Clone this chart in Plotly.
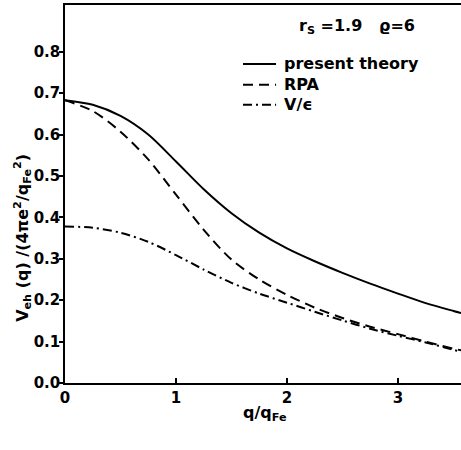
import plotly.graph_objects as go

q = [0, 0.25, 0.5, 0.75, 1.0, 1.25, 1.5, 1.75, 2.0, 2.25, 2.5, 2.75, 3.0, 3.25, 3.5, 3.57]
present_theory = [0.683, 0.672, 0.645, 0.600, 0.535, 0.468, 0.410, 0.363, 0.325, 0.294, 0.266, 0.240, 0.216, 0.193, 0.174, 0.169]
rpa = [0.683, 0.657, 0.607, 0.540, 0.455, 0.370, 0.298, 0.250, 0.213, 0.182, 0.157, 0.136, 0.118, 0.100, 0.083, 0.079]
v_eps = [0.378, 0.375, 0.363, 0.341, 0.309, 0.274, 0.242, 0.216, 0.194, 0.172, 0.151, 0.131, 0.114, 0.098, 0.080, 0.075]

series_names = ["present theory", "RPA", "V/ϵ"]
series_dash = ["solid", "10px,6px", "9px,4px,2px,4px"]

x_ticks = [0, 1, 2, 3]
x_ticktext = ["0", "1", "2", "3"]
y_ticks = [0.0, 0.1, 0.2, 0.3, 0.4, 0.5, 0.6, 0.7, 0.8]
y_ticktext = ["0.0", "0.1", "0.2", "0.3", "0.4", "0.5", "0.6", "0.7", "0.8"]

FONT = "DejaVu Sans"
TICKF = dict(family=FONT, size=15, color="black", weight="bold")
TXT = dict(family=FONT, size=16, color="black", weight="bold")

fig = go.Figure()
for name, ys, dash in zip(series_names, [present_theory, rpa, v_eps], series_dash):
    fig.add_trace(go.Scatter(x=q, y=ys, mode="lines", name=name, showlegend=False,
                             line=dict(color="black", width=2, dash=dash,
                                       shape="spline", smoothing=0.8)))

# manual legend (paper coords)
leg_y = [0.844, 0.789, 0.736]
shapes = []
annotations = []
for name, dash, yy in zip(series_names, series_dash, leg_y):
    shapes.append(dict(type="line", xref="paper", yref="paper", x0=0.4495, x1=0.533,
                       y0=yy, y1=yy, line=dict(color="black", width=2, dash=dash)))
    annotations.append(dict(text=name, xref="paper", yref="paper", x=0.548, y=yy,
                            xanchor="left", yanchor="middle", showarrow=False, font=TXT))

annotations += [
    dict(text="V<sub>eh</sub> (q) /(4πe<sup>2</sup>/q<sub>Fe</sub><sup>2</sup>)",
         xref="paper", yref="paper", x=-0.106, y=0.384, textangle=-90,
         showarrow=False, xanchor="center", yanchor="middle", font=TXT),
    dict(text="q/q<sub>Fe</sub>", xref="paper", yref="paper", x=0.505, y=-0.082,
         showarrow=False, xanchor="center", yanchor="middle", font=TXT),
    dict(text="r<sub>S</sub> =1.9   ϱ=6", xref="paper", yref="paper", x=0.585, y=0.942,
         showarrow=False, xanchor="left", yanchor="middle", font=TXT),
]

fig.update_layout(
    width=461, height=450,
    margin=dict(l=65, r=0, t=5, b=67),
    plot_bgcolor="white", paper_bgcolor="white",
    showlegend=False,
    shapes=shapes,
    annotations=annotations,
    xaxis=dict(range=[0, 3.568], tickvals=x_ticks, ticktext=x_ticktext,
               ticks="inside", ticklen=5, tickcolor="black", tickwidth=1.5,
               showline=True, linecolor="black", linewidth=1.5, mirror=True,
               showgrid=False, zeroline=False, tickfont=TICKF),
    yaxis=dict(range=[0, 0.913], tickvals=y_ticks, ticktext=y_ticktext,
               ticks="outside", ticklen=4, tickcolor="black", tickwidth=1.5,
               ticklabelstandoff=-4,
               showline=True, linecolor="black", linewidth=1.5, mirror=False,
               showgrid=False, zeroline=False, tickfont=TICKF),
)

fig.write_html("out.html")
